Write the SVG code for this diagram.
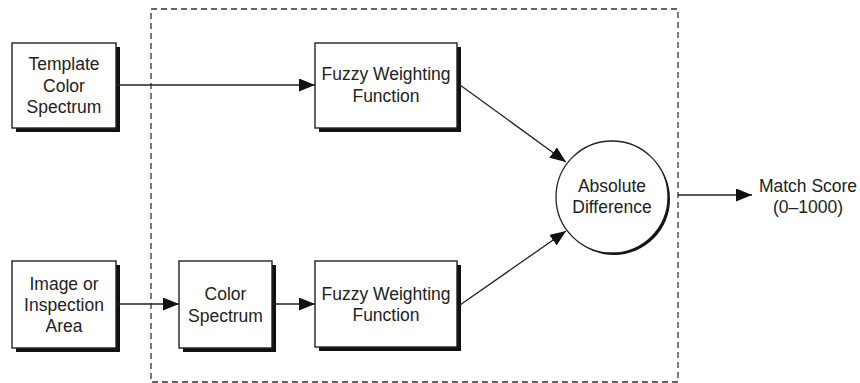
<svg xmlns="http://www.w3.org/2000/svg" width="860" height="383" viewBox="0 0 860 383">
<style>
.box{fill:#fff;stroke:#222;stroke-width:1.4}
.shadow{fill:#111}
.t{font-family:"Liberation Sans",Arial,sans-serif;font-size:17.5px;fill:#222;text-anchor:middle}
.conn{stroke:#222;stroke-width:1.3;fill:none}
.dash{fill:none;stroke:#333;stroke-width:1.3;stroke-dasharray:6 4}
</style>
<defs>
<marker id="ah" viewBox="0 0 16 13" refX="16" refY="6.5" markerWidth="16" markerHeight="13" markerUnits="userSpaceOnUse" orient="auto">
<path d="M0,0 L16,6.5 L0,13 Z" fill="#111"/>
</marker>
</defs>
<rect class="dash" x="151" y="9" width="527" height="373"/>
<g id="template">
<rect class="shadow" x="16" y="47" width="104" height="85"/>
<rect class="box" x="12" y="43" width="104" height="85"/>
<text class="t" x="64" y="70">Template</text>
<text class="t" x="64" y="92">Color</text>
<text class="t" x="64" y="113">Spectrum</text>
</g>
<g id="fuzzy1">
<rect class="shadow" x="319" y="47" width="142" height="85"/>
<rect class="box" x="315" y="43" width="142" height="85"/>
<text class="t" x="386" y="80">Fuzzy Weighting</text>
<text class="t" x="386" y="102">Function</text>
</g>
<g id="image">
<rect class="shadow" x="16" y="265" width="104" height="87"/>
<rect class="box" x="12" y="261" width="104" height="87"/>
<text class="t" x="64" y="290">Image or</text>
<text class="t" x="64" y="311">Inspection</text>
<text class="t" x="64" y="332">Area</text>
</g>
<g id="colorspectrum">
<rect class="shadow" x="183" y="265" width="93" height="87"/>
<rect class="box" x="179" y="261" width="93" height="87"/>
<text class="t" x="225.5" y="300">Color</text>
<text class="t" x="225.5" y="322">Spectrum</text>
</g>
<g id="fuzzy2">
<rect class="shadow" x="319" y="265" width="142" height="86"/>
<rect class="box" x="315" y="261" width="142" height="86"/>
<text class="t" x="386" y="300">Fuzzy Weighting</text>
<text class="t" x="386" y="321">Function</text>
</g>
<g id="absdiff">
<circle cx="614" cy="199" r="56" fill="#111"/>
<circle cx="612" cy="197" r="56" fill="#fff" stroke="#222" stroke-width="1.3"/>
<text class="t" x="612" y="192">Absolute</text>
<text class="t" x="612" y="213">Difference</text>
</g>
<g id="matchscore">
<text class="t" x="808" y="192">Match Score</text>
<text class="t" x="808" y="213">(0–1000)</text>
</g>
<g id="connectors">
<line class="conn" x1="117" y1="85" x2="315" y2="85" marker-end="url(#ah)"/>
<line class="conn" x1="117" y1="304" x2="179" y2="304" marker-end="url(#ah)"/>
<line class="conn" x1="273" y1="304" x2="315" y2="304" marker-end="url(#ah)"/>
<line class="conn" x1="460" y1="85" x2="566" y2="162" marker-end="url(#ah)"/>
<line class="conn" x1="460" y1="305" x2="566" y2="231" marker-end="url(#ah)"/>
<line class="conn" x1="678" y1="195" x2="752" y2="195" marker-end="url(#ah)"/>
</g>
</svg>
